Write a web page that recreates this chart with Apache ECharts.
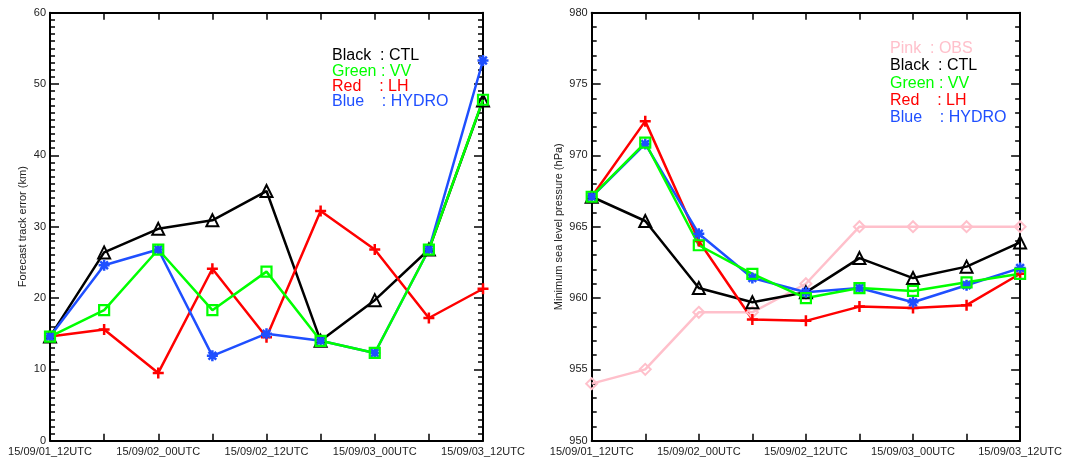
<!DOCTYPE html>
<html>
<head>
<meta charset="utf-8">
<script src="https://cdn.jsdelivr.net/npm/echarts@6/dist/echarts.min.js"></script>
<style>
  html, body { margin: 0; padding: 0; background: #fff; }
  #chart { width: 1065px; height: 463px; }
</style>
</head>
<body>
<div id="chart"></div>
<script>
// Forecast times (every other one is labelled)
const categories = [
  '15/09/01_12UTC', '15/09/01_18UTC', '15/09/02_00UTC', '15/09/02_06UTC',
  '15/09/02_12UTC', '15/09/02_18UTC', '15/09/03_00UTC', '15/09/03_06UTC',
  '15/09/03_12UTC'
];

// Track error (km)
const trackCTL   = [14.6, 26.4, 29.7, 30.9, 35.0, 14.0, 19.7, 26.8, 47.7];
const trackVV    = [14.6, 18.3, 26.8, 18.3, 23.7, 14.0, 12.3, 26.8, 47.8];
const trackLH    = [14.6, 15.6,  9.5, 24.1, 14.5, 32.2, 26.8, 17.2, 21.3];
const trackHYDRO = [14.6, 24.6, 26.8, 11.9, 15.0, 14.0, 12.3, 26.8, 53.3];

// Minimum sea level pressure (hPa)
const mslpOBS   = [954, 955, 959, 959, 961, 965, 965, 965, 965];
const mslpCTL   = [967.1, 965.4, 960.7, 959.7, 960.4, 962.8, 961.4, 962.2, 963.9];
const mslpVV    = [967.1, 970.9, 963.7, 961.7, 960.0, 960.7, 960.5, 961.1, 961.7];
const mslpLH    = [967.1, 972.4, 964.0, 958.5, 958.4, 959.4, 959.3, 959.5, 961.7];
const mslpHYDRO = [967.1, 970.8, 964.5, 961.4, 960.4, 960.7, 959.7, 960.9, 962.1];

const trackLegend = ['Black  : CTL', 'Green : VV', 'Red    : LH', 'Blue    : HYDRO'];
const mslpLegend  = ['Pink  : OBS', 'Black  : CTL', 'Green : VV', 'Red    : LH', 'Blue    : HYDRO'];

const C = {
  black: '#000000', green: '#00ff00', red: '#ff0000', blue: '#1f4fff', pink: '#ffc0cb'
};

const FONT = '"Liberation Sans", Arial, Helvetica, sans-serif';

const SYM = {
  triangle: 'triangle',
  square: 'rect',
  diamond: 'diamond',
  plus: 'path://M5,0V10M0,5H10',
  star: 'path://M5,0V10M0,5H10M1.5,1.5L8.5,8.5M8.5,1.5L1.5,8.5'
};

function line(data, color, symbol, gridIdx, size, stroke) {
  return {
    type: 'line',
    data: data,
    xAxisIndex: gridIdx * 2,
    yAxisIndex: gridIdx * 2,
    symbol: symbol,
    symbolSize: size || 10,
    showAllSymbol: true,
    clip: true,
    lineStyle: { color: color, width: 2.5 },
    itemStyle: { color: 'rgba(0,0,0,0)', borderColor: color, borderWidth: stroke || 2 },
    emphasis: { disabled: true },
    animation: false
  };
}

function xAxes(gridIdx) {
  const common = {
    type: 'category',
    data: categories,
    gridIndex: gridIdx,
    boundaryGap: false,
    axisLine: { show: true, onZero: false, lineStyle: { color: '#000', width: 2 } },
    axisTick: { show: true, inside: true, length: 7, interval: 0, lineStyle: { color: '#000', width: 1.5 } },
    splitLine: { show: false }
  };
  return [
    Object.assign({}, common, {
      position: 'bottom',
      axisLabel: { interval: 1, color: '#222', fontSize: 11, fontFamily: FONT, margin: 6 }
    }),
    Object.assign({}, common, {
      position: 'top',
      axisLabel: { show: false }
    })
  ];
}

function yAxes(gridIdx, min, max, interval, minorSplit, name, nameGap) {
  const common = {
    type: 'value',
    gridIndex: gridIdx,
    min: min, max: max, interval: interval,
    axisLine: { show: true, onZero: false, lineStyle: { color: '#000', width: 2 } },
    axisTick: { show: true, inside: true, length: 9, lineStyle: { color: '#000', width: 1.5 } },
    minorTick: { show: true, splitNumber: minorSplit, length: 5, lineStyle: { color: '#000', width: 1.5 } },
    splitLine: { show: false },
    minorSplitLine: { show: false }
  };
  return [
    Object.assign({}, common, {
      position: 'left',
      name: name,
      nameLocation: 'middle',
      nameGap: nameGap,
      nameRotate: 90,
      nameTextStyle: { color: '#222', fontSize: 11, fontFamily: FONT },
      axisLabel: { color: '#222', fontSize: 11, fontFamily: FONT, margin: 4 }
    }),
    Object.assign({}, common, {
      position: 'right',
      axisLabel: { show: false }
    })
  ];
}

function legendTexts(lines, colors, x, y0, step) {
  return lines.map(function (t, i) {
    return {
      type: 'text',
      x: x,
      y: y0 + i * step,
      silent: true,
      style: {
        text: t,
        fill: colors[i],
        font: '16px ' + FONT,
        verticalAlign: 'middle',
        align: 'left'
      }
    };
  });
}

const chart = echarts.init(document.getElementById('chart'), null, { renderer: 'canvas' });

chart.setOption({
  backgroundColor: '#ffffff',
  animation: false,
  grid: [
    { left: 50, right: 582, top: 12.7, bottom: 22.3, containLabel: false },
    { left: 591.7, right: 40.7, top: 12.7, bottom: 22.3, containLabel: false }
  ],
  xAxis: xAxes(0).concat(xAxes(1)),
  yAxis: yAxes(0, 0, 60, 10, 10, 'Forecast track error (km)', 22)
    .concat(yAxes(1, 950, 980, 5, 5, 'Minimum sea level pressure (hPa)', 27)),
  series: [
    line(trackCTL, C.black, SYM.triangle, 0, 12, 2),
    line(trackLH, C.red, SYM.plus, 0, 11, 2.5),
    line(trackHYDRO, C.blue, SYM.star, 0, 11, 2.5),
    line(trackVV, C.green, SYM.square, 0, 10, 2.2),

    line(mslpOBS, C.pink, SYM.diamond, 1, 11, 2),
    line(mslpCTL, C.black, SYM.triangle, 1, 12, 2),
    line(mslpLH, C.red, SYM.plus, 1, 11, 2.5),
    line(mslpHYDRO, C.blue, SYM.star, 1, 11, 2.5),
    line(mslpVV, C.green, SYM.square, 1, 10, 2.2)
  ],
  graphic: legendTexts(trackLegend, [C.black, C.green, C.red, C.blue], 332, 56, 15.3)
    .concat(legendTexts(mslpLegend, [C.pink, C.black, C.green, C.red, C.blue], 890, 48.5, 17.3))
});
</script>
</body>
</html>
